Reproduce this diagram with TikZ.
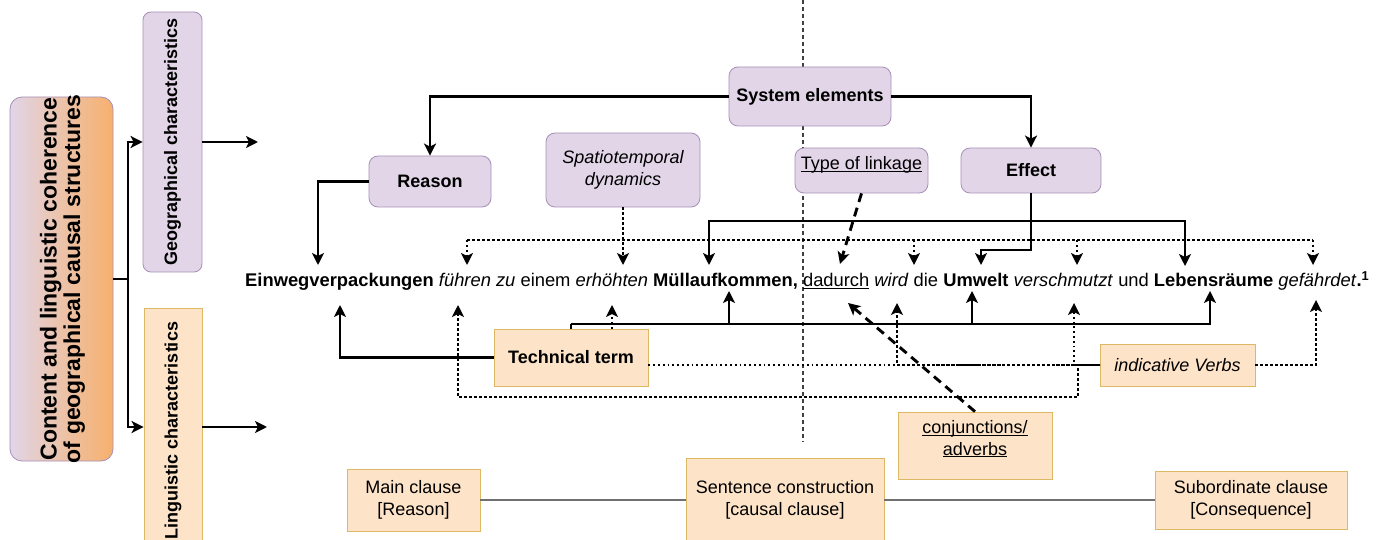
\documentclass[tikz,border=0pt]{standalone}
\usepackage{fontspec}
\setmainfont{Liberation Sans}
\usetikzlibrary{arrows.meta,calc}
\definecolor{pfill}{HTML}{E1D5E7}
\definecolor{pdraw}{HTML}{A88FB8}
\definecolor{ofill}{HTML}{FDE4C9}
\definecolor{odraw}{HTML}{DDB965}
\definecolor{ostrong}{HTML}{F7B06C}
\definecolor{gline}{HTML}{707070}
\newcommand\myul[1]{\underline{\smash{#1}}}
\begin{document}
\begin{tikzpicture}[x=1pt,y=-1pt,
  every node/.style={inner sep=0pt, font=\fontsize{18}{21.5}\selectfont},
  txtbf/.style={font=\fontsize{18}{21.5}\selectfont\bfseries},
  txtit/.style={font=\fontsize{18}{21.5}\selectfont\itshape},
  pbox/.style={draw=pdraw, fill=pfill, rounded corners=9pt, line width=0.8pt, align=center},
  obox/.style={draw=odraw, fill=ofill, line width=0.8pt, align=center},
  tip/.tip={Stealth[length=12pt,width=12pt,inset=3pt]},
  ln/.style={line width=2.9pt},
  arr/.style={line width=2.9pt, -tip},
  dotln/.style={line width=2.9pt, dash pattern=on 2.5pt off 2.5pt},
  dotarr/.style={dotln, -tip},
  thindot/.style={line width=1.8pt, dash pattern=on 1.8pt off 3pt},
  thindotarr/.style={thindot, -tip},
  dasharr/.style={line width=2.9pt, dash pattern=on 9pt off 6pt, -tip},
  divider/.style={line width=1.1pt, black!75, dash pattern=on 4pt off 3pt},
  grayln/.style={line width=2pt, gline}
]
\useasboundingbox (0,0) rectangle (1379,540);

% divider
\coordinate (divT) at (803,0);
\coordinate (divB) at (803,442);
\draw[divider] (divT) -- (divB);

% left part
\node[draw=pdraw, line width=0.8pt, rounded corners=12pt, left color=pfill, right color=ostrong,
      minimum width=103pt, minimum height=364pt] (big) at (61.5,279) {};
\node[rotate=90, align=center, font=\fontsize{23}{23.5}\selectfont\bfseries] (bigT) at ([xshift=1pt]big.center)
  {Content and linguistic coherence\\of geographical causal structures};
\node[pbox, rotate=90, rounded corners=8pt, minimum width=260pt, minimum height=59pt,
      font=\fontsize{18}{22}\selectfont\bfseries] (geo) at (172.5,142) {Geographical characteristics};
\node[obox, rotate=90, minimum width=245pt, minimum height=58pt,
      font=\fontsize{18}{22}\selectfont\bfseries] (ling) at (173,430.5) {Linguistic characteristics};

\coordinate (br) at (128,279);
\draw[ln] (big.east) -- (br);
\draw[arr] (br) |- (geo.north);
\draw[arr] (br) |- ([yshift=3.5pt]ling.north);
\coordinate (geoEnd) at (258,142);
\coordinate (lingEnd) at (267,427);
\draw[arr] (geo.south) -- (geoEnd);
\draw[arr] ([yshift=3.5pt]ling.south) -- (lingEnd);

% upper boxes
\node[pbox, txtbf, minimum width=162pt, minimum height=59pt] (sys) at (810,96.5) {System elements};
\node[pbox, txtbf, minimum width=122pt, minimum height=51pt] (reason) at (430,181.5) {Reason};
\node[pbox, txtit, minimum width=154pt, minimum height=74pt] (spatio) at (623,170) {Spatiotemporal\\dynamics};
\node[pbox, minimum width=133pt, minimum height=45pt] (type) at (861.5,170.5) {\myul{Type of linkage}};
\node[pbox, txtbf, minimum width=140pt, minimum height=45pt] (effect) at (1031,170.5) {Effect};

% sentence
\node[anchor=base west, font=\fontsize{18.35}{22}\selectfont] (sentence) at (245,287)
  {\textbf{Einwegverpackungen} \textit{führen zu} einem \textit{erhöhten} \textbf{Müllaufkommen,} \myul{dadurch} \textit{wird} die \textbf{Umwelt} \textit{verschmutzt} und \textbf{Lebensräume} \textit{gefährdet}\textbf{.}\textsuperscript{\textbf{1}}};

% lower boxes
\node[obox, txtbf, minimum width=154pt, minimum height=57pt] (tech) at (571,357.5) {Technical term};
\node[obox, txtit, minimum width=155pt, minimum height=42pt] (iv) at (1177.5,365) {indicative Verbs};
\node[obox, minimum width=154pt, minimum height=67pt] (conj) at (975,445.5) {\myul{conjunctions/}\\\myul{adverbs}};
\node[obox, minimum width=133pt, minimum height=62pt] (mainc) at (413.5,500) {Main clause\\{[Reason]}};
\node[obox, minimum width=198pt, minimum height=84pt] (sentc) at (785,500) {Sentence construction\\{[causal clause]}};
\node[obox, minimum width=192pt, minimum height=58pt] (subc) at (1251,500) {Subordinate clause\\{[Consequence]}};

% arrow targets above the sentence
\coordinate (tEin) at (318,265);
\coordinate (tFuh) at (467,265);
\coordinate (tErh) at (623,265);
\coordinate (tMul) at (709,265);
\coordinate (tDad) at (840,264);
\coordinate (tWir) at (914,265);
\coordinate (tUmw) at (981,265);
\coordinate (tVer) at (1077,265);
\coordinate (tLeb) at (1185,266);
\coordinate (tGef) at (1313,265);
% arrow targets below the sentence
\coordinate (bEin) at (340,305);
\coordinate (bFuh) at (458,305);
\coordinate (bErh) at (612,305);
\coordinate (bMul) at (729,291);
\coordinate (bDad) at (848,303);
\coordinate (bWir) at (897,303);
\coordinate (bUmw) at (972,291);
\coordinate (bVer) at (1074,303);
\coordinate (bLeb) at (1210,291);
\coordinate (bGef) at (1316,300);

% system elements
\draw[arr] (sys.west) -| (reason.north);
\draw[arr] (sys.east) -| (effect.north);
\draw[arr] (reason.west) -| (tEin);

% spatiotemporal dynamics
\coordinate (barL) at (467,240);
\coordinate (barR) at (1313,240);
\draw[dotln] (barL) -- (barR);
\draw[dotarr] (spatio.south) -- (tErh);
\draw[dotarr] (barL) -- (tFuh);
\draw[dotarr] (tWir |- barL) -- (tWir);
\draw[dotarr] (tVer |- barL) -- (tVer);
\draw[dotarr] (barR) -- (tGef);

% type of linkage
\draw[dasharr] (type.south) -- (tDad);

% effect
\coordinate (uJ) at (981,250);
\coordinate (eBar) at (1031,221);
\draw[arr] (effect.south) |- (uJ) -- (tUmw);
\draw[arr] (eBar) -| (tMul);
\draw[arr] (eBar) -| (tLeb);

% technical term
\coordinate (tBar) at (571,324);
\draw[arr] (tech.west) -| (bEin);
\draw[ln] (tech.north) -- (tBar);
\draw[arr] (tBar) -| (bMul);
\draw[arr] (tBar) -| (bUmw);
\draw[arr] (tBar) -| (bLeb);
\draw[thindotarr] (tech.north -| bErh) -- (bErh);
\draw[thindot] (tech.east |- iv.west) -- (iv.west);

% indicative verbs
\coordinate (fJ) at (1078,397);
\draw[dotarr] (iv.west) -| (bWir);
\draw[thindotarr] (iv.west) -| (bVer);
\draw[dotarr] (iv.west) -| (fJ) -| (bFuh);
\draw[dotarr] (iv.east) -| (bGef);

% conjunctions
\draw[dasharr] (conj.north) -- (bDad);

% sentence construction
\draw[grayln] (mainc.east) -- (sentc.west);
\draw[grayln] (sentc.east) -- (subc.west);
\end{tikzpicture}
\end{document}
